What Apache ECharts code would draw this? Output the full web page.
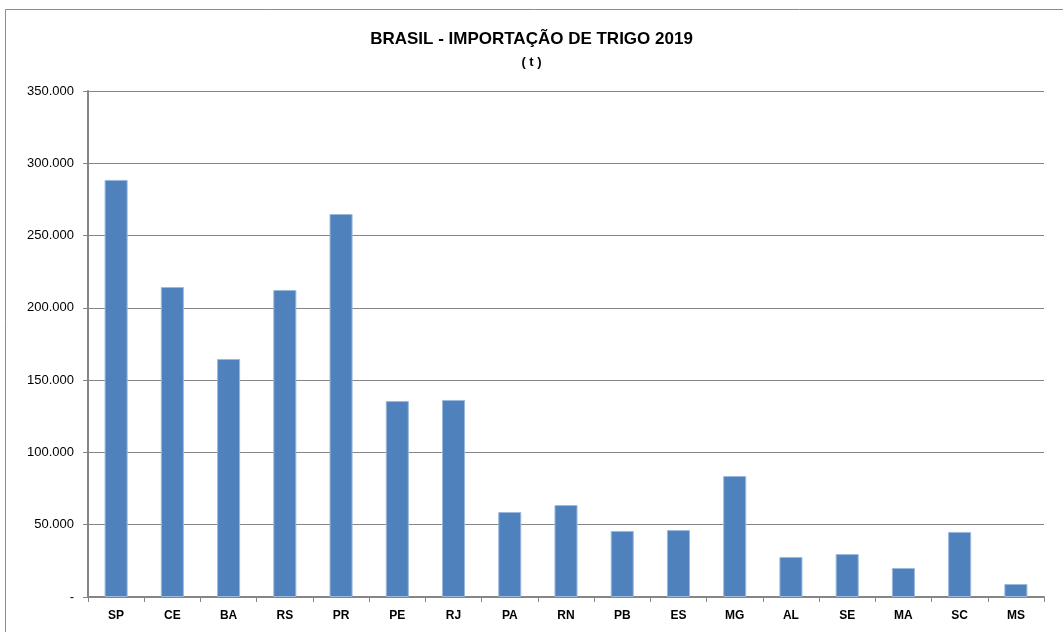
<!DOCTYPE html>
<html><head><meta charset="utf-8">
<script src="https://cdn.jsdelivr.net/npm/echarts@6/dist/echarts.min.js"></script>
<style>html,body{margin:0;padding:0;background:#fff}#c{width:1063px;height:632px}</style>
</head><body><div id="c"></div>
<script>
const categories = ['SP','CE','BA','RS','PR','PE','RJ','PA','RN','PB','ES','MG','AL','SE','MA','SC','MS'];
const values = [288500,214400,164600,212400,264900,135600,136300,58800,63600,45700,46300,83700,27700,29700,20100,45000,9000];
const yTicks = {min:0, max:350000, interval:50000};
const titleText = 'BRASIL - IMPORTAÇÃO DE TRIGO 2019';
const subtitleText = '( t )';

const chart = echarts.init(document.getElementById('c'));
const fmt = v => v === 0 ? '-' : v.toLocaleString('de-DE');
const ff = 'Liberation Sans, Arial, sans-serif';
chart.setOption({
  backgroundColor:'#fff',
  animation:false,
  graphic:[{type:'rect',shape:{x:5.5,y:9.5,width:1070,height:640},style:{fill:'none',stroke:'#8c8c8c',lineWidth:1}}],
  title:{text:titleText, subtext:subtitleText, left:'center', top:26, itemGap:8,
    textStyle:{fontFamily:ff,fontWeight:'bold',fontSize:17,color:'#000'},
    subtextStyle:{fontFamily:ff,fontWeight:'bold',fontSize:13,color:'#000'}},
  grid:{left:88,right:19,top:91,bottom:35,containLabel:false},
  xAxis:{type:'category',data:categories,
    axisLine:{lineStyle:{color:'#868686',width:2}},
    axisTick:{show:true,length:5,interval:0,lineStyle:{color:'#868686'}},
    axisLabel:{color:'#000',fontWeight:'bold',fontSize:12,margin:13,fontFamily:ff}},
  yAxis:{type:'value',min:yTicks.min,max:yTicks.max,interval:yTicks.interval,
    axisLine:{show:true,lineStyle:{color:'#868686',width:2}},
    axisTick:{show:true,length:5,lineStyle:{color:'#868686'}},
    splitLine:{lineStyle:{color:'#868686',width:1}},
    axisLabel:{formatter:fmt,color:'#000',fontSize:13,margin:14,fontFamily:ff}},
  series:[{type:'bar',data:values,barWidth:'41%',
    itemStyle:{color:'#4f81bd',borderColor:'#9cb9dc',borderWidth:1}}]
});
</script></body></html>
